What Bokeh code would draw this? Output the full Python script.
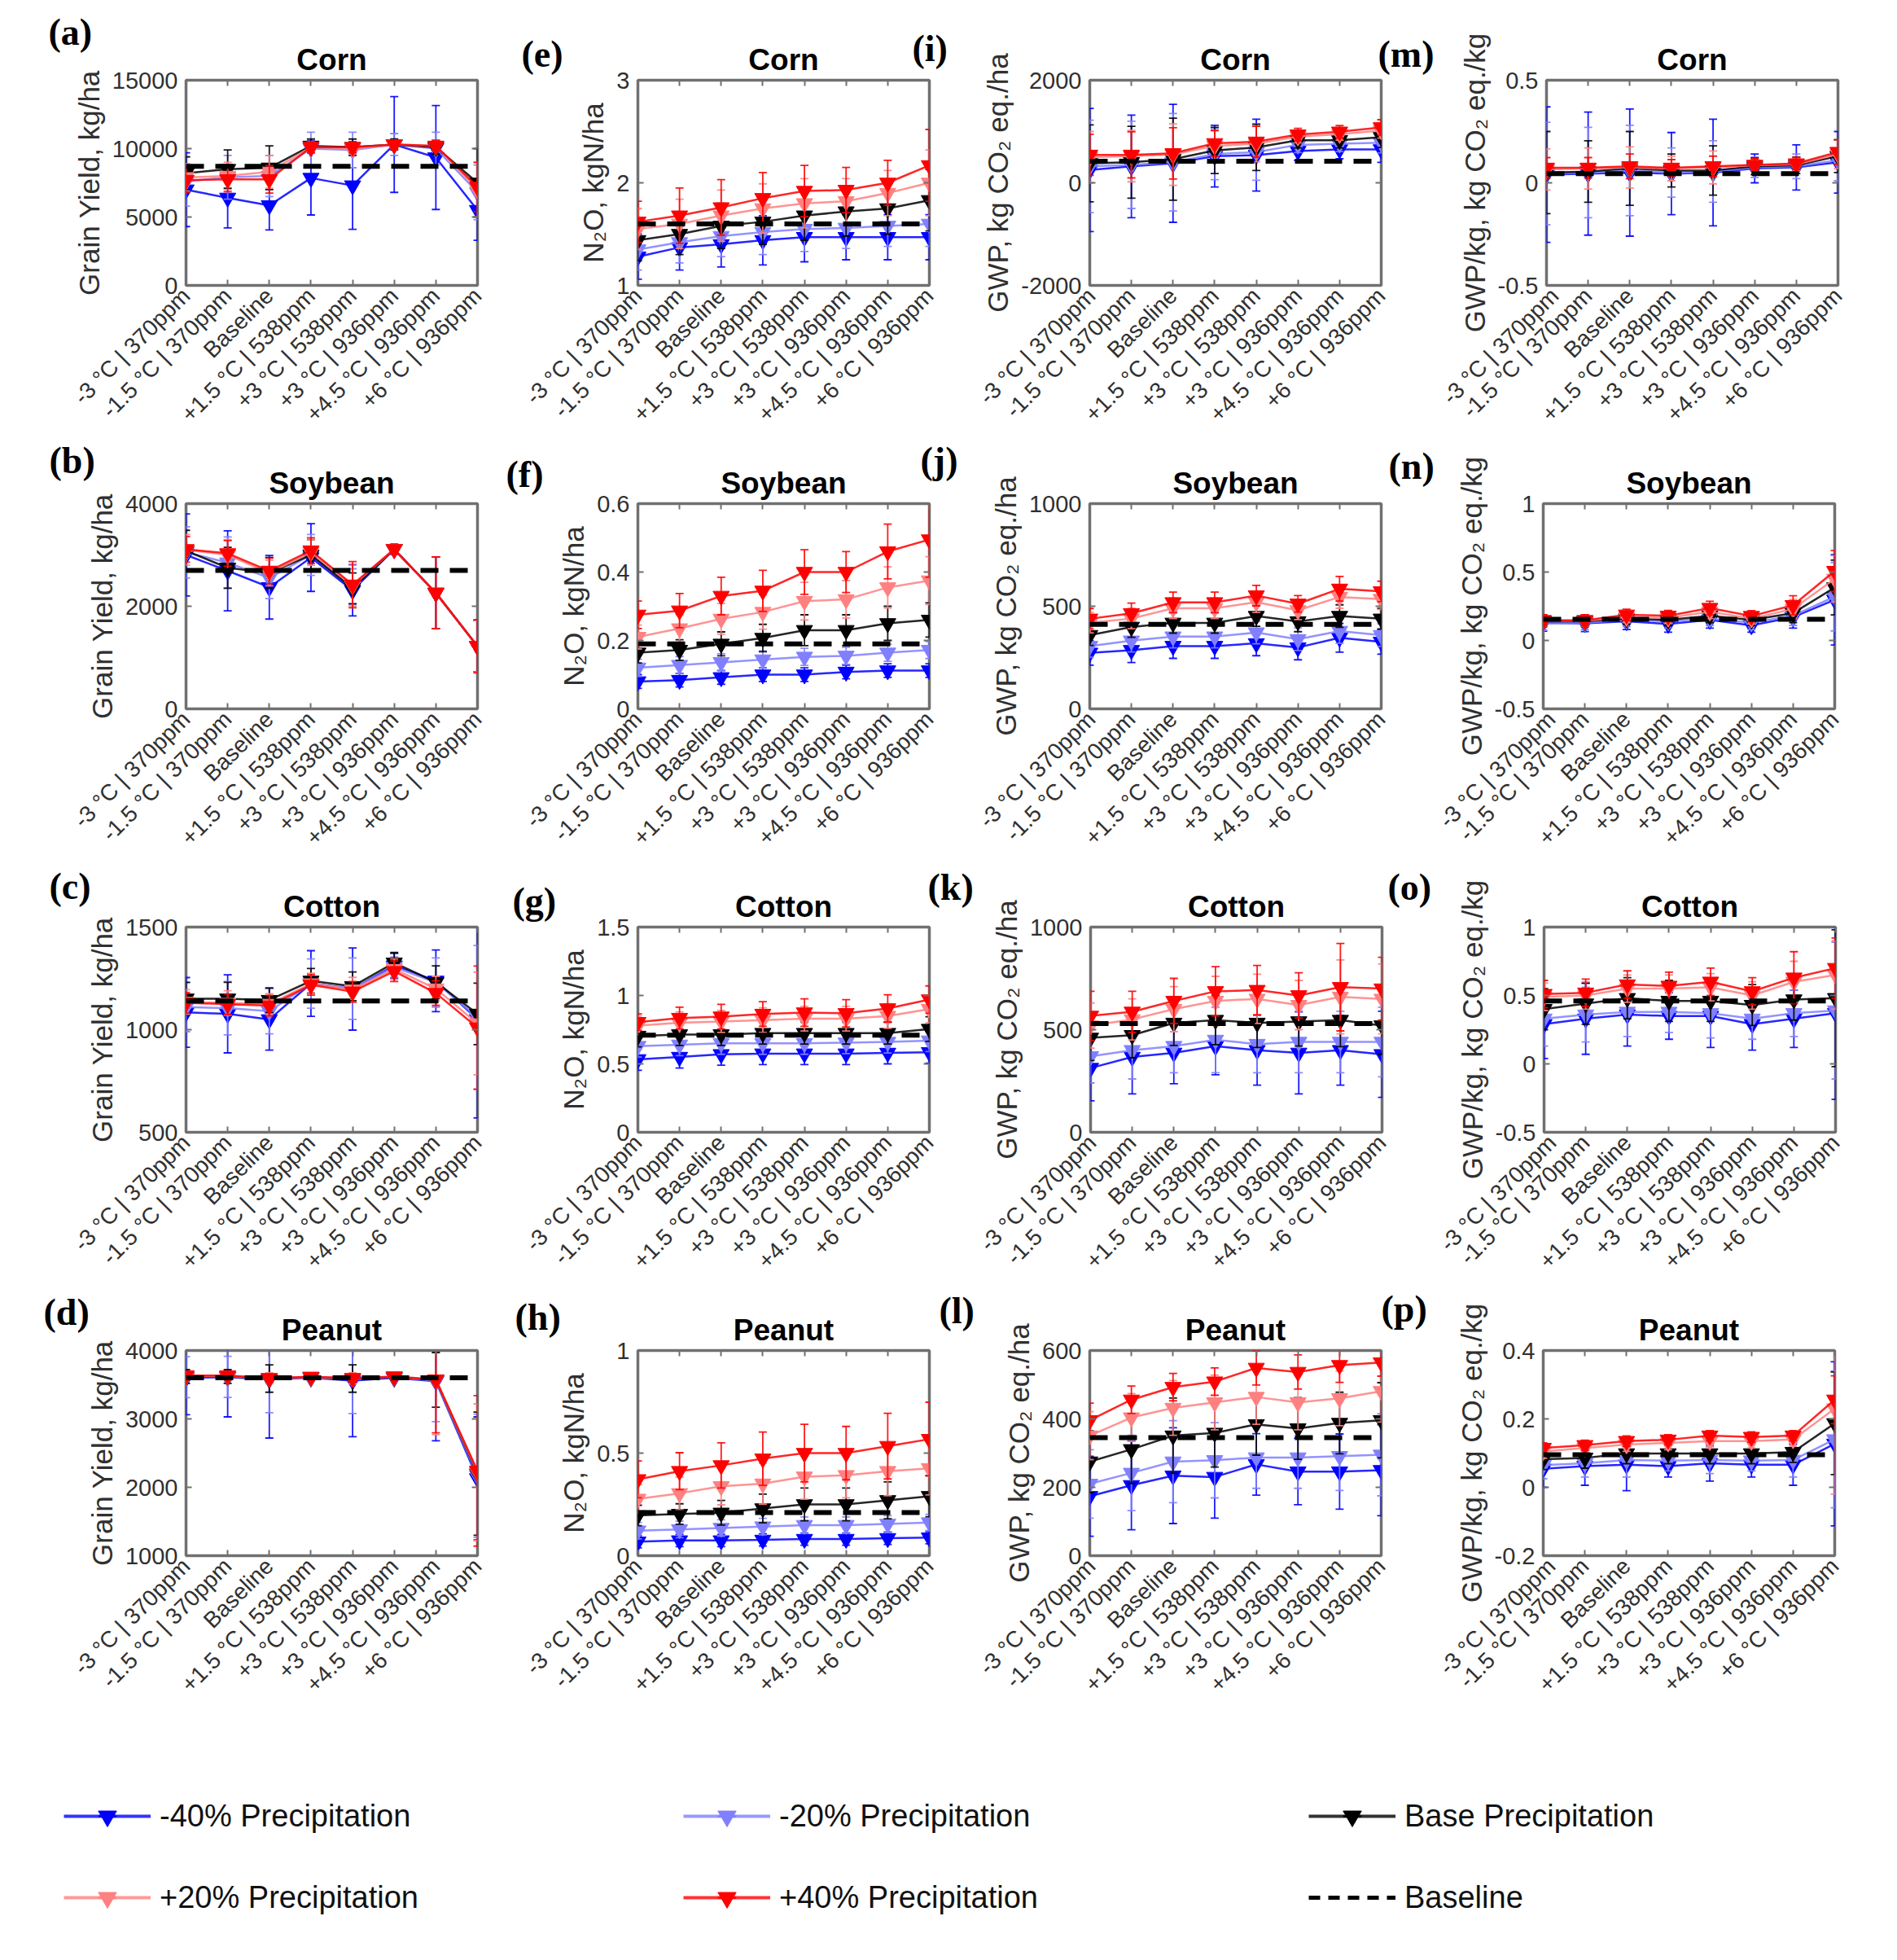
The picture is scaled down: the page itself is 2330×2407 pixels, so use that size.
import math
from bokeh.plotting import figure
from bokeh.models import (ColumnDataSource, FixedTicker, LinearAxis, Range1d, Label,
                          Legend, LegendItem, Span, Title)
from bokeh.layouts import row, column
from bokeh.embed import file_html
from bokeh.resources import INLINE

# ---------------------------------------------------------------- data
CATEGORIES = ["-3 °C | 370ppm", "-1.5 °C | 370ppm", "Baseline", "+1.5 °C | 538ppm",
              "+3 °C | 538ppm", "+3 °C | 936ppm", "+4.5 °C | 936ppm", "+6 °C | 936ppm"]
SERIES = ["-40% Precipitation", "-20% Precipitation", "Base Precipitation",
          "+20% Precipitation", "+40% Precipitation"]
BASELINE_NAME = "Baseline"
CROPS = ["Corn", "Soybean", "Cotton", "Peanut"]
METRICS = ["Grain Yield, kg/ha", "N₂O, kgN/ha", "GWP, kg CO₂ eq./ha", "GWP/kg, kg CO₂ eq./kg"]
LETTERS = [["(a)", "(e)", "(i)", "(m)"],
           ["(b)", "(f)", "(j)", "(n)"],
           ["(c)", "(g)", "(k)", "(o)"],
           ["(d)", "(h)", "(l)", "(p)"]]

# rows of each table: -40%, -20%, base, +20%, +40% precipitation
CORN_YIELD = [[7000, 6400, 5850, 7850, 7300, 10300, 9350, 5500],
              [7600, 7900, 8000, 10000, 9900, 10300, 10000, 6800],
              [8200, 8500, 8600, 10200, 10100, 10300, 10100, 7500],
              [7900, 8000, 8300, 10100, 10000, 10300, 10200, 7000],
              [7700, 7750, 7750, 10100, 10100, 10300, 10200, 7200]]
CORN_YIELD_ERR = [[2700, 2200, 1800, 2700, 3200, 3500, 3800, 2200],
                  [1800, 1600, 1500, 1200, 1300, 800, 1200, 2000],
                  [1200, 1400, 1600, 500, 600, 400, 500, 2500],
                  [1000, 1000, 1200, 400, 400, 300, 400, 2000],
                  [900, 900, 1000, 400, 400, 300, 400, 1800]]
CORN_YIELD_REF = 8700
CORN_YIELD_YLIM = (0, 15000)
CORN_YIELD_TICKS = [0, 5000, 10000, 15000]

CORN_N2O = [[1.28, 1.37, 1.40, 1.44, 1.47, 1.47, 1.47, 1.47],
            [1.35, 1.42, 1.48, 1.52, 1.55, 1.56, 1.58, 1.60],
            [1.44, 1.50, 1.58, 1.62, 1.68, 1.72, 1.75, 1.83],
            [1.55, 1.60, 1.68, 1.75, 1.80, 1.82, 1.90, 2.00],
            [1.62, 1.68, 1.76, 1.85, 1.92, 1.93, 2.00, 2.17]]
CORN_N2O_ERR = [[0.22, 0.22, 0.22, 0.24, 0.24, 0.22, 0.22, 0.22],
                [0.20, 0.20, 0.20, 0.22, 0.22, 0.20, 0.20, 0.22],
                [0.20, 0.20, 0.22, 0.22, 0.24, 0.24, 0.25, 0.30],
                [0.20, 0.24, 0.25, 0.24, 0.24, 0.22, 0.22, 0.32],
                [0.20, 0.27, 0.27, 0.25, 0.25, 0.22, 0.22, 0.35]]
CORN_N2O_REF = 1.6
CORN_N2O_YLIM = (1, 3)
CORN_N2O_TICKS = [1, 2, 3]

CORN_GWP = [[250, 320, 380, 520, 540, 620, 650, 650],
            [320, 350, 400, 560, 600, 740, 760, 780],
            [380, 400, 460, 630, 690, 830, 830, 890],
            [500, 520, 550, 720, 760, 900, 950, 1020],
            [545, 545, 575, 770, 800, 940, 995, 1080]]
CORN_GWP_ERR = [[1200, 1000, 1150, 600, 700, 180, 180, 250],
                [900, 850, 950, 500, 550, 150, 150, 200],
                [750, 700, 800, 450, 450, 150, 150, 200],
                [500, 500, 600, 300, 350, 120, 120, 150],
                [400, 450, 500, 250, 300, 120, 120, 150]]
CORN_GWP_REF = 420
CORN_GWP_YLIM = (-2000, 2000)
CORN_GWP_TICKS = [-2000, 0, 2000]

CORN_GWPKG = [[0.040, 0.045, 0.050, 0.045, 0.050, 0.070, 0.075, 0.100],
              [0.045, 0.050, 0.060, 0.050, 0.055, 0.075, 0.080, 0.110],
              [0.050, 0.055, 0.070, 0.060, 0.060, 0.080, 0.085, 0.130],
              [0.065, 0.070, 0.075, 0.070, 0.075, 0.085, 0.090, 0.140],
              [0.073, 0.073, 0.080, 0.073, 0.080, 0.087, 0.094, 0.150]]
CORN_GWPKG_ERR = [[0.33, 0.30, 0.31, 0.20, 0.26, 0.07, 0.11, 0.15],
                  [0.25, 0.22, 0.22, 0.12, 0.15, 0.05, 0.06, 0.10],
                  [0.20, 0.15, 0.18, 0.08, 0.12, 0.04, 0.04, 0.08],
                  [0.10, 0.10, 0.10, 0.06, 0.08, 0.03, 0.03, 0.07],
                  [0.05, 0.05, 0.06, 0.04, 0.05, 0.03, 0.03, 0.06]]
CORN_GWPKG_REF = 0.045
CORN_GWPKG_YLIM = (-0.5, 0.5)
CORN_GWPKG_TICKS = [-0.5, 0, 0.5]

SOY_YIELD = [[3000, 2690, 2370, 2950, 2310, 3110, 2260, 1220],
             [3050, 2850, 2550, 3000, 2380, 3110, 2260, 1220],
             [3080, 2750, 2650, 3000, 2350, 3110, 2260, 1220],
             [3100, 3000, 2650, 3050, 2400, 3110, 2260, 1220],
             [3110, 3030, 2690, 3085, 2420, 3110, 2260, 1220]]
SOY_YIELD_ERR = [[800, 780, 620, 660, 500, 100, 700, 500],
                 [500, 500, 400, 400, 350, 80, 700, 500],
                 [400, 400, 300, 300, 300, 80, 700, 500],
                 [300, 300, 250, 250, 400, 80, 700, 500],
                 [250, 250, 250, 250, 450, 80, 700, 520]]
SOY_YIELD_REF = 2700
SOY_YIELD_YLIM = (0, 4000)
SOY_YIELD_TICKS = [0, 2000, 4000]

SOY_N2O = [[0.080, 0.084, 0.092, 0.100, 0.100, 0.108, 0.112, 0.112],
           [0.120, 0.128, 0.136, 0.144, 0.152, 0.155, 0.164, 0.172],
           [0.164, 0.172, 0.190, 0.207, 0.230, 0.230, 0.250, 0.260],
           [0.210, 0.235, 0.263, 0.283, 0.315, 0.320, 0.355, 0.375],
           [0.275, 0.287, 0.330, 0.345, 0.400, 0.400, 0.460, 0.495]]
SOY_N2O_ERR = [[0.020, 0.020, 0.020, 0.020, 0.020, 0.020, 0.020, 0.020],
               [0.025, 0.025, 0.025, 0.025, 0.025, 0.025, 0.025, 0.025],
               [0.030, 0.030, 0.035, 0.040, 0.045, 0.045, 0.050, 0.050],
               [0.035, 0.040, 0.045, 0.050, 0.055, 0.055, 0.060, 0.070],
               [0.040, 0.050, 0.055, 0.060, 0.065, 0.060, 0.080, 0.110]]
SOY_N2O_REF = 0.19
SOY_N2O_YLIM = (0, 0.6)
SOY_N2O_TICKS = [0, 0.2, 0.4, 0.6]

SOY_GWP = [[273, 286, 306, 306, 319, 299, 346, 326],
           [306, 332, 352, 352, 372, 339, 379, 359],
           [359, 399, 419, 419, 452, 426, 452, 439],
           [420, 440, 490, 490, 520, 480, 545, 535],
           [439, 465, 519, 519, 552, 512, 585, 572]]
SOY_GWP_ERR = [[60, 60, 60, 60, 60, 60, 70, 60],
               [55, 55, 55, 55, 55, 55, 60, 55],
               [50, 50, 50, 50, 50, 50, 55, 50],
               [50, 50, 50, 50, 50, 45, 55, 50],
               [50, 50, 50, 50, 50, 40, 60, 50]]
SOY_GWP_REF = 412
SOY_GWP_YLIM = (0, 1000)
SOY_GWP_TICKS = [0, 500, 1000]

SOY_GWPKG = [[0.128, 0.125, 0.140, 0.120, 0.150, 0.110, 0.170, 0.297],
             [0.125, 0.130, 0.150, 0.140, 0.160, 0.130, 0.180, 0.320],
             [0.140, 0.140, 0.160, 0.150, 0.180, 0.150, 0.200, 0.387],
             [0.145, 0.145, 0.170, 0.165, 0.210, 0.160, 0.230, 0.450],
             [0.148, 0.148, 0.188, 0.180, 0.237, 0.178, 0.257, 0.507]]
SOY_GWPKG_ERR = [[0.06, 0.06, 0.06, 0.06, 0.06, 0.05, 0.08, 0.33],
                 [0.05, 0.05, 0.05, 0.05, 0.05, 0.05, 0.07, 0.25],
                 [0.04, 0.04, 0.04, 0.04, 0.05, 0.04, 0.07, 0.20],
                 [0.04, 0.04, 0.04, 0.04, 0.05, 0.04, 0.07, 0.17],
                 [0.04, 0.04, 0.04, 0.04, 0.05, 0.04, 0.07, 0.15]]
SOY_GWPKG_REF = 0.155
SOY_GWPKG_YLIM = (-0.5, 1)
SOY_GWPKG_TICKS = [-0.5, 0, 0.5, 1]

COTTON_YIELD = [[1084, 1077, 1050, 1225, 1198, 1312, 1238, 1050],
                [1110, 1105, 1090, 1225, 1200, 1305, 1230, 1060],
                [1151, 1151, 1144, 1238, 1211, 1326, 1231, 1077],
                [1135, 1130, 1125, 1225, 1195, 1295, 1200, 1030],
                [1131, 1124, 1117, 1218, 1185, 1285, 1178, 1010]]
COTTON_YIELD_ERR = [[170, 190, 150, 160, 200, 60, 150, 480],
                    [120, 130, 110, 120, 150, 50, 120, 350],
                    [80, 80, 60, 60, 70, 50, 80, 150],
                    [60, 60, 50, 50, 60, 50, 60, 250],
                    [50, 50, 50, 50, 50, 50, 60, 300]]
COTTON_YIELD_REF = 1140
COTTON_YIELD_YLIM = (500, 1500)
COTTON_YIELD_TICKS = [500, 1000, 1500]

COTTON_N2O = [[0.533, 0.550, 0.570, 0.575, 0.575, 0.575, 0.580, 0.585],
              [0.630, 0.640, 0.650, 0.650, 0.650, 0.655, 0.660, 0.670],
              [0.704, 0.715, 0.715, 0.725, 0.725, 0.725, 0.725, 0.755],
              [0.780, 0.800, 0.810, 0.820, 0.830, 0.830, 0.850, 0.900],
              [0.805, 0.835, 0.845, 0.865, 0.875, 0.870, 0.905, 0.970]]
COTTON_N2O_ERR = [[0.08, 0.08, 0.08, 0.08, 0.08, 0.08, 0.08, 0.08],
                  [0.08, 0.08, 0.08, 0.08, 0.08, 0.08, 0.08, 0.08],
                  [0.08, 0.08, 0.08, 0.08, 0.08, 0.08, 0.08, 0.09],
                  [0.07, 0.08, 0.08, 0.09, 0.09, 0.09, 0.09, 0.10],
                  [0.06, 0.08, 0.09, 0.09, 0.10, 0.10, 0.10, 0.10]]
COTTON_N2O_REF = 0.71
COTTON_N2O_YLIM = (0, 1.5)
COTTON_N2O_TICKS = [0, 0.5, 1, 1.5]

COTTON_GWP = [[313, 367, 387, 420, 400, 387, 400, 380],
              [370, 400, 420, 450, 430, 440, 440, 440],
              [460, 473, 533, 547, 533, 540, 547, 520],
              [520, 550, 600, 640, 650, 620, 660, 650],
              [567, 587, 640, 687, 693, 667, 707, 700]]
COTTON_GWP_ERR = [[160, 180, 150, 140, 170, 200, 170, 210],
                  [130, 140, 130, 160, 140, 150, 150, 170],
                  [110, 110, 110, 120, 120, 120, 130, 140],
                  [110, 100, 110, 120, 120, 120, 180, 170],
                  [120, 100, 110, 120, 120, 110, 213, 153]]
COTTON_GWP_REF = 530
COTTON_GWP_YLIM = (0, 1000)
COTTON_GWP_TICKS = [0, 500, 1000]

COTTON_GWPKG = [[0.29, 0.33, 0.36, 0.35, 0.35, 0.29, 0.33, 0.37],
                [0.33, 0.36, 0.38, 0.38, 0.37, 0.33, 0.37, 0.39],
                [0.40, 0.44, 0.48, 0.46, 0.46, 0.43, 0.47, 0.48],
                [0.49, 0.50, 0.55, 0.55, 0.56, 0.50, 0.60, 0.65],
                [0.51, 0.52, 0.58, 0.57, 0.60, 0.53, 0.63, 0.70]]
COTTON_GWPKG_ERR = [[0.25, 0.26, 0.23, 0.17, 0.23, 0.19, 0.21, 0.63],
                    [0.20, 0.20, 0.18, 0.15, 0.18, 0.15, 0.17, 0.50],
                    [0.15, 0.15, 0.15, 0.15, 0.15, 0.15, 0.15, 0.50],
                    [0.10, 0.10, 0.10, 0.10, 0.10, 0.10, 0.15, 0.25],
                    [0.10, 0.10, 0.10, 0.10, 0.10, 0.10, 0.19, 0.22]]
COTTON_GWPKG_REF = 0.46
COTTON_GWPKG_YLIM = (-0.5, 1)
COTTON_GWPKG_TICKS = [-0.5, 0, 0.5, 1]

PEANUT_YIELD = [[3600, 3610, 3580, 3600, 3560, 3600, 3550, 2130],
                [3610, 3615, 3590, 3605, 3580, 3610, 3560, 2170],
                [3620, 3620, 3590, 3610, 3590, 3610, 3570, 2200],
                [3625, 3625, 3595, 3610, 3595, 3615, 3570, 2220],
                [3635, 3635, 3595, 3615, 3595, 3620, 3575, 2240]]
PEANUT_YIELD_ERR = [[540, 580, 860, 40, 820, 30, 870, 900],
                    [300, 300, 500, 30, 500, 30, 600, 900],
                    [100, 100, 200, 30, 200, 30, 400, 900],
                    [50, 50, 80, 30, 80, 30, 800, 1000],
                    [40, 40, 60, 30, 60, 30, 780, 1100]]
PEANUT_YIELD_REF = 3600
PEANUT_YIELD_YLIM = (1000, 4000)
PEANUT_YIELD_TICKS = [1000, 2000, 3000, 4000]

PEANUT_N2O = [[0.068, 0.074, 0.074, 0.077, 0.081, 0.081, 0.085, 0.088],
              [0.122, 0.128, 0.135, 0.142, 0.149, 0.149, 0.155, 0.162],
              [0.196, 0.203, 0.209, 0.230, 0.250, 0.250, 0.270, 0.290],
              [0.277, 0.304, 0.338, 0.351, 0.385, 0.392, 0.412, 0.426],
              [0.372, 0.412, 0.440, 0.473, 0.500, 0.500, 0.534, 0.568]]
PEANUT_N2O_ERR = [[0.03, 0.03, 0.03, 0.03, 0.03, 0.03, 0.03, 0.03],
                  [0.04, 0.04, 0.04, 0.04, 0.04, 0.04, 0.04, 0.04],
                  [0.05, 0.05, 0.06, 0.07, 0.08, 0.08, 0.09, 0.10],
                  [0.07, 0.08, 0.09, 0.10, 0.11, 0.11, 0.12, 0.13],
                  [0.09, 0.09, 0.11, 0.13, 0.14, 0.13, 0.16, 0.18]]
PEANUT_N2O_REF = 0.21
PEANUT_N2O_YLIM = (0, 1)
PEANUT_N2O_TICKS = [0, 0.5, 1]

PEANUT_GWP = [[174, 206, 234, 230, 267, 246, 246, 250],
              [210, 242, 275, 279, 287, 287, 291, 295],
              [275, 311, 351, 359, 384, 372, 388, 396],
              [351, 404, 432, 448, 464, 448, 460, 481],
              [396, 456, 493, 509, 549, 537, 557, 565]]
PEANUT_GWP_ERR = [[117, 130, 140, 120, 90, 97, 110, 133],
                  [100, 110, 120, 110, 90, 90, 100, 120],
                  [90, 100, 110, 100, 90, 90, 90, 110],
                  [70, 70, 80, 80, 80, 80, 80, 90],
                  [50, 40, 40, 40, 50, 50, 50, 40]]
PEANUT_GWP_REF = 345
PEANUT_GWP_YLIM = (0, 600)
PEANUT_GWP_TICKS = [0, 200, 400, 600]

PEANUT_GWPKG = [[0.054, 0.062, 0.066, 0.062, 0.070, 0.066, 0.066, 0.127],
                [0.065, 0.070, 0.080, 0.078, 0.080, 0.078, 0.080, 0.140],
                [0.082, 0.086, 0.099, 0.099, 0.099, 0.099, 0.103, 0.187],
                [0.105, 0.115, 0.125, 0.130, 0.135, 0.135, 0.140, 0.230],
                [0.115, 0.123, 0.135, 0.139, 0.151, 0.147, 0.151, 0.256]]
PEANUT_GWPKG_ERR = [[0.054, 0.056, 0.076, 0.032, 0.052, 0.036, 0.060, 0.240],
                    [0.040, 0.040, 0.050, 0.030, 0.040, 0.030, 0.050, 0.200],
                    [0.030, 0.030, 0.030, 0.030, 0.030, 0.030, 0.030, 0.150],
                    [0.020, 0.020, 0.020, 0.020, 0.020, 0.020, 0.020, 0.250],
                    [0.015, 0.015, 0.015, 0.015, 0.015, 0.015, 0.015, 0.070]]
PEANUT_GWPKG_REF = 0.095
PEANUT_GWPKG_YLIM = (-0.2, 0.4)
PEANUT_GWPKG_TICKS = [-0.2, 0, 0.2, 0.4]

# ---------------------------------------------------------------- styles / layout
SERIES_COLORS = ["#0000ff", "#8080ff", "#000000", "#ff8080", "#ff0000"]
FRAME_COLOR = "#707070"
TEXT_COLOR = "#303030"
SANS = "Liberation Sans"
SERIF = "Liberation Serif"
LETTER_SIZE = "46px"
TITLE_SIZE = "37px"

FRAME_W, FRAME_H = 358, 252
BORDER_L = [228, 181, 142, 134]
BORDER_R = [16, 55, 65, 20]
BORDER_T = [98, 80, 80, 80]
BORDER_B = 188
FRAME_LEFT = [236, 791, 1346, 1903]      # page coordinates of frame left edges
FRAME_TOP = [106, 626, 1146, 1666]       # page coordinates of frame top edges
# panel letters: (left edge, vertical centre) in page coordinates
LETTER_POS = {"(a)": (59, 47), "(e)": (639, 74), "(i)": (1115, 67), "(m)": (1687, 74),
              "(b)": (59, 573), "(f)": (620, 590), "(j)": (1125, 573), "(n)": (1700, 580),
              "(c)": (59, 1096), "(g)": (628, 1114), "(k)": (1134, 1097), "(o)": (1698, 1097),
              "(d)": (52, 1619), "(h)": (631, 1625), "(l)": (1148, 1617), "(p)": (1691, 1615)}
# letters left of a y axis sit outside it: estimated (axis + letter) widths
LEFT_SIDE_SHIFT = {"(a)": 204, "(b)": 191, "(c)": 186, "(d)": 191,
                   "(e)": 137, "(f)": 156, "(g)": 164, "(h)": 166}
RIGHT_SIDE_SHIFT = 13
TOTAL_W = sum(BORDER_L[c] + FRAME_W + BORDER_R[c] for c in range(4))

X_POS = list(range(1, len(CATEGORIES) + 1))

PANEL_DATA = [
    [(CORN_YIELD, CORN_YIELD_ERR, CORN_YIELD_REF, CORN_YIELD_YLIM, CORN_YIELD_TICKS),
     (CORN_N2O, CORN_N2O_ERR, CORN_N2O_REF, CORN_N2O_YLIM, CORN_N2O_TICKS),
     (CORN_GWP, CORN_GWP_ERR, CORN_GWP_REF, CORN_GWP_YLIM, CORN_GWP_TICKS),
     (CORN_GWPKG, CORN_GWPKG_ERR, CORN_GWPKG_REF, CORN_GWPKG_YLIM, CORN_GWPKG_TICKS)],
    [(SOY_YIELD, SOY_YIELD_ERR, SOY_YIELD_REF, SOY_YIELD_YLIM, SOY_YIELD_TICKS),
     (SOY_N2O, SOY_N2O_ERR, SOY_N2O_REF, SOY_N2O_YLIM, SOY_N2O_TICKS),
     (SOY_GWP, SOY_GWP_ERR, SOY_GWP_REF, SOY_GWP_YLIM, SOY_GWP_TICKS),
     (SOY_GWPKG, SOY_GWPKG_ERR, SOY_GWPKG_REF, SOY_GWPKG_YLIM, SOY_GWPKG_TICKS)],
    [(COTTON_YIELD, COTTON_YIELD_ERR, COTTON_YIELD_REF, COTTON_YIELD_YLIM, COTTON_YIELD_TICKS),
     (COTTON_N2O, COTTON_N2O_ERR, COTTON_N2O_REF, COTTON_N2O_YLIM, COTTON_N2O_TICKS),
     (COTTON_GWP, COTTON_GWP_ERR, COTTON_GWP_REF, COTTON_GWP_YLIM, COTTON_GWP_TICKS),
     (COTTON_GWPKG, COTTON_GWPKG_ERR, COTTON_GWPKG_REF, COTTON_GWPKG_YLIM, COTTON_GWPKG_TICKS)],
    [(PEANUT_YIELD, PEANUT_YIELD_ERR, PEANUT_YIELD_REF, PEANUT_YIELD_YLIM, PEANUT_YIELD_TICKS),
     (PEANUT_N2O, PEANUT_N2O_ERR, PEANUT_N2O_REF, PEANUT_N2O_YLIM, PEANUT_N2O_TICKS),
     (PEANUT_GWP, PEANUT_GWP_ERR, PEANUT_GWP_REF, PEANUT_GWP_YLIM, PEANUT_GWP_TICKS),
     (PEANUT_GWPKG, PEANUT_GWPKG_ERR, PEANUT_GWPKG_REF, PEANUT_GWPKG_YLIM, PEANUT_GWPKG_TICKS)],
]


def fmt(v):
    return "%g" % v


def style_hidden_axis(ax):
    ax.major_label_text_font_size = "1px"
    ax.major_label_text_color = None
    ax.major_label_standoff = 0
    ax.axis_line_color = None
    ax.major_tick_in = 7
    ax.major_tick_out = 0
    ax.major_tick_line_color = FRAME_COLOR
    ax.major_tick_line_width = 2
    ax.minor_tick_line_color = None


def letter_label(text, x, y):
    return Label(x=x, y=y, x_units="screen", y_units="screen", text=text,
                 text_font=SERIF, text_font_style="bold", text_font_size=LETTER_SIZE,
                 text_color="#000000", text_align="left", text_baseline="middle")


def build_panel(r, c):
    mean, err, ref, ylim, yticks = PANEL_DATA[r][c]
    p = figure(frame_width=FRAME_W, frame_height=FRAME_H,
               x_range=Range1d(X_POS[0], X_POS[-1]), y_range=Range1d(*ylim),
               output_backend="svg", toolbar_location=None,
               min_border_left=BORDER_L[c], min_border_right=BORDER_R[c],
               min_border_top=BORDER_T[r], min_border_bottom=BORDER_B)
    p.background_fill_color = "white"
    p.border_fill_color = "white"
    p.outline_line_color = FRAME_COLOR
    p.outline_line_width = 3.5
    p.xgrid.visible = False
    p.ygrid.visible = False

    xa = p.xaxis[0]
    xa.ticker = FixedTicker(ticks=X_POS)
    xa.major_label_overrides = {x: lab for x, lab in zip(X_POS, CATEGORIES)}
    xa.major_label_orientation = math.pi / 4
    xa.major_label_text_font = SANS
    xa.major_label_text_font_size = "28px"
    xa.major_label_text_color = TEXT_COLOR
    xa.major_label_standoff = 8
    xa.axis_line_color = None
    xa.major_tick_in = 7
    xa.major_tick_out = 0
    xa.major_tick_line_color = FRAME_COLOR
    xa.major_tick_line_width = 2
    xa.minor_tick_line_color = None

    ya = p.yaxis[0]
    ya.ticker = FixedTicker(ticks=yticks)
    ya.major_label_overrides = {t: fmt(t) for t in yticks}
    ya.major_label_text_font = SANS
    ya.major_label_text_font_size = "29px"
    ya.major_label_text_color = TEXT_COLOR
    ya.major_label_standoff = 10
    ya.axis_line_color = None
    ya.major_tick_in = 7
    ya.major_tick_out = 0
    ya.major_tick_line_color = FRAME_COLOR
    ya.major_tick_line_width = 2
    ya.minor_tick_line_color = None
    ya.axis_label = METRICS[c]
    ya.axis_label_text_font = SANS
    ya.axis_label_text_font_size = "35px"
    ya.axis_label_text_font_style = "normal"
    ya.axis_label_text_color = TEXT_COLOR
    ya.axis_label_standoff = 6

    top = LinearAxis(ticker=FixedTicker(ticks=X_POS))
    style_hidden_axis(top)
    p.add_layout(top, "above")
    p.add_layout(Title(text=CROPS[r], align="center", text_font=SANS, text_font_size=TITLE_SIZE,
                       text_font_style="bold", text_color="#000000", standoff=10), "above")

    right = LinearAxis(ticker=FixedTicker(ticks=yticks))
    style_hidden_axis(right)
    p.add_layout(right, "right")

    # letters of the third/fourth columns: right border of the panel to their left
    if c in (1, 2):
        letter = LETTERS[r][c + 1]
        X, Yc = LETTER_POS[letter]
        p.add_layout(letter_label(letter, X - (FRAME_LEFT[c] + FRAME_W) + RIGHT_SIDE_SHIFT,
                                  FRAME_H + (FRAME_TOP[r] - Yc)), "right")

    # letters of the first/second columns: outside the panel's own y axis
    if c in (0, 1):
        letter = LETTERS[r][c]
        X, Yc = LETTER_POS[letter]
        p.add_layout(letter_label(letter, X - FRAME_LEFT[c] + LEFT_SIDE_SHIFT[letter],
                                  FRAME_H + (FRAME_TOP[r] - Yc)), "left")

    for k in range(len(SERIES)):
        col = SERIES_COLORS[k]
        m = mean[k]
        e = err[k]
        src = ColumnDataSource(dict(x=X_POS, y=m,
                                    lo=[a - b for a, b in zip(m, e)],
                                    hi=[a + b for a, b in zip(m, e)]))
        p.segment(x0="x", y0="lo", x1="x", y1="hi", source=src,
                  line_color=col, line_width=1.8, line_alpha=0.9)
        p.scatter(x="x", y="hi", source=src, marker="dash", size=10,
                  line_color=col, line_width=1.8, line_alpha=0.9)
        p.scatter(x="x", y="lo", source=src, marker="dash", size=10,
                  line_color=col, line_width=1.8, line_alpha=0.9)
        p.line(x="x", y="y", source=src, line_color=col, line_width=2.5, line_alpha=0.85)
        p.scatter(x="x", y="y", source=src, marker="inverted_triangle", size=20,
                  fill_color=col, line_color=col)

    p.add_layout(Span(location=ref, dimension="width", line_color="#000000",
                      line_width=6, line_dash="22 14"))
    return p


blocks = [row([build_panel(r, c) for c in range(4)]) for r in range(4)]

# ---------------------------------------------------------------- legend
LEGEND_H = 285
lg = figure(width=TOTAL_W, height=LEGEND_H, x_range=Range1d(0, 1), y_range=Range1d(0, 1),
            output_backend="svg", toolbar_location=None, min_border=0,
            x_axis_location=None, y_axis_location=None)
lg.xgrid.visible = False
lg.ygrid.visible = False
lg.outline_line_color = None
lg.background_fill_color = "white"
lg.border_fill_color = "white"

LEGEND_COL_X = [78, 839, 1607]
LEGEND_ROW_Y = [125, 25]
nan = float("nan")
legend_entries = []
for k, name in enumerate(SERIES):
    col = SERIES_COLORS[k]
    src = ColumnDataSource(dict(x=[nan], y=[nan]))
    r1 = lg.line(x="x", y="y", source=src, line_color=col, line_width=4, line_alpha=0.8)
    r2 = lg.scatter(x="x", y="y", source=src, marker="dash", angle=math.pi / 2, size=22,
                    line_color=col, line_width=2.5)
    r3 = lg.scatter(x="x", y="y", source=src, marker="inverted_triangle", size=22,
                    fill_color=col, line_color=col)
    legend_entries.append((name, [r1, r2, r3]))
src_b = ColumnDataSource(dict(x=[nan], y=[nan]))
rb = lg.line(x="x", y="y", source=src_b, line_color="#000000", line_width=5, line_dash="14 10")
legend_entries.append((BASELINE_NAME, [rb]))

for k, (name, rends) in enumerate(legend_entries):
    rr, cc = divmod(k, 3)
    leg = Legend(items=[LegendItem(label=name, renderers=rends)],
                 location=(LEGEND_COL_X[cc], LEGEND_ROW_Y[rr]),
                 orientation="vertical", border_line_color=None,
                 background_fill_alpha=0, padding=0, margin=0, spacing=0,
                 glyph_width=107, glyph_height=56, label_standoff=11,
                 label_text_font=SANS, label_text_font_size="38px",
                 label_text_color="#111111")
    lg.add_layout(leg)
blocks.append(lg)

layout = column(blocks)

with open("out.html", "w") as f:
    f.write(file_html(layout, INLINE))
